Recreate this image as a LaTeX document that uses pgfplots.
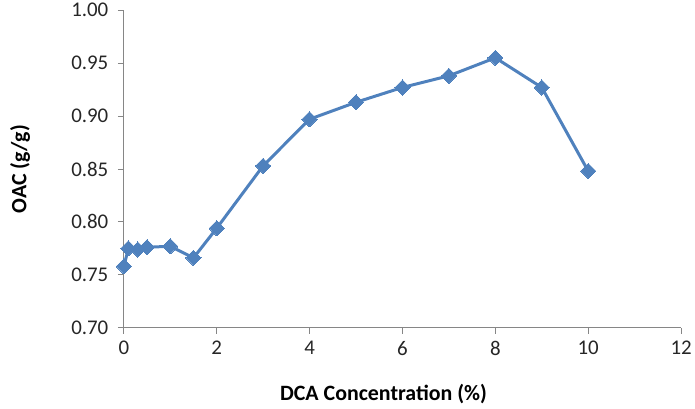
\documentclass[border=0pt]{standalone}
\usepackage{fontspec}
\setmainfont{Carlito}
\usepackage{pgfplots}
\pgfplotsset{compat=1.18}
\definecolor{xlblue}{RGB}{79,129,189}
\definecolor{axgray}{RGB}{134,134,134}

\begin{document}
\begin{tikzpicture}
\begin{axis}[
  scale only axis,
  width=558bp,
  height=318bp,
  xmin=0, xmax=12,
  ymin=0.70, ymax=1.00,
  xtick={0,2,4,6,8,10,12},
  ytick={0.70,0.75,0.80,0.85,0.90,0.95,1.00},
  axis x line*=bottom,
  axis y line*=left,
  axis line style={axgray, line width=0.9pt},
  tick style={axgray, line width=0.9pt},
  tick align=outside,
  major tick length=6bp,
  /pgf/number format/assume math mode=true,
  yticklabel style={/pgf/number format/fixed, /pgf/number format/fixed zerofill, /pgf/number format/precision=2},
  tick label style={font=\fontsize{21}{24}\selectfont, text=black!85},
  xticklabel style={yshift=-4bp},
  yticklabel style={xshift=-6bp},
  xlabel={\textbf{DCA Concentration (\%)}},
  ylabel={\textbf{OAC (g/g)}},
  label style={font=\fontsize{22}{26}\selectfont},
  xlabel style={at={(rel axis cs:0.466,-0.21)}, anchor=center},
  ylabel style={at={(rel axis cs:-0.186,0.5)}, anchor=center},
  clip=false,
]
\path (rel axis cs:-0.2222,-0.2547) rectangle (rel axis cs:1.0233,1.0283);
\addplot[
  color=xlblue,
  line width=3bp,
  mark=square*,
  mark size=5.4bp,
  mark options={rotate=45, fill=xlblue, line width=0pt},
] coordinates {
  (0,0.758) (0.1,0.775) (0.3,0.774) (0.5,0.776) (1,0.777)
  (1.5,0.766) (2,0.794) (3,0.853) (4,0.897) (5,0.913)
  (6,0.927) (7,0.938) (8,0.955) (9,0.927) (10,0.848)
};
\end{axis}
\end{tikzpicture}
\end{document}
